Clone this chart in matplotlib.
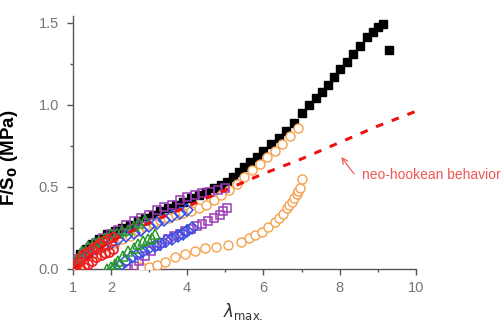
import matplotlib.pyplot as plt
from matplotlib.ticker import FixedLocator, FixedFormatter

# black squares (monotonic loading to failure)
black_x = [1.0, 1.1, 1.2, 1.35, 1.5, 1.7, 1.9, 2.1, 2.3, 2.5, 2.7, 2.9, 3.1, 3.3, 3.5, 3.7, 3.9,
           4.1, 4.3, 4.5, 4.7, 4.9, 5.05, 5.2, 5.35, 5.5, 5.65, 5.82, 6.0, 6.2, 6.4, 6.6, 6.8,
           7.0, 7.2, 7.38, 7.53, 7.7, 7.84, 8.01, 8.18, 8.36, 8.53, 8.71, 8.88, 9.01, 9.14, 9.30]
black_y = [0.0, 0.05, 0.09, 0.12, 0.15, 0.18, 0.21, 0.23, 0.25, 0.27, 0.29, 0.31, 0.33, 0.35, 0.37, 0.39, 0.41,
           0.43, 0.45, 0.47, 0.49, 0.51, 0.53, 0.56, 0.59, 0.62, 0.65, 0.68, 0.72, 0.76, 0.80, 0.84, 0.89,
           0.95, 1.00, 1.04, 1.08, 1.12, 1.17, 1.22, 1.26, 1.31, 1.36, 1.41, 1.44, 1.47, 1.49, 1.33]

# orange circles, upper and lower branches
orange_up_x = [1.0, 1.15, 1.3, 1.5, 1.7, 1.9, 2.1, 2.3, 2.5, 2.7, 2.9, 3.1, 3.3, 3.5, 3.7, 3.9,
               4.1, 4.3, 4.5, 4.7, 4.9, 5.1, 5.3, 5.5, 5.7, 5.9, 6.1, 6.3, 6.5, 6.7, 6.9]
orange_up_y = [0.0, 0.03, 0.06, 0.09, 0.12, 0.14, 0.16, 0.18, 0.20, 0.23, 0.26, 0.28, 0.30, 0.31, 0.33, 0.34,
               0.35, 0.37, 0.39, 0.42, 0.45, 0.48, 0.52, 0.56, 0.60, 0.64, 0.68, 0.72, 0.76, 0.81, 0.86]
orange_lo_x = [2.8, 3.0, 3.2, 3.42, 3.68, 3.94, 4.21, 4.47, 4.77, 5.08, 5.4, 5.62, 5.78, 5.95, 6.13,
               6.3, 6.42, 6.52, 6.61, 6.68, 6.74, 6.81, 6.87, 6.92, 6.96, 7.0]
orange_lo_y = [0.01, 0.015, 0.025, 0.045, 0.07, 0.09, 0.11, 0.125, 0.135, 0.145, 0.165, 0.19, 0.205, 0.225, 0.255,
               0.285, 0.31, 0.335, 0.37, 0.39, 0.41, 0.43, 0.455, 0.475, 0.495, 0.545]

# purple squares
purple_up_x = [1.0, 1.15, 1.3, 1.45, 1.6, 1.8, 2.0, 2.2, 2.4, 2.6, 2.8, 3.0, 3.2, 3.4, 3.6, 3.8,
               4.0, 4.2, 4.4, 4.6, 4.8, 5.0]
purple_up_y = [0.0, 0.06, 0.10, 0.13, 0.16, 0.19, 0.21, 0.24, 0.27, 0.29, 0.31, 0.33, 0.36, 0.38, 0.39, 0.42,
               0.44, 0.45, 0.46, 0.47, 0.48, 0.49]
purple_lo_x = [2.45, 2.6, 2.75, 2.9, 3.05, 3.2, 3.35, 3.5, 3.65, 3.8, 3.95, 4.1, 4.25, 4.4, 4.55,
               4.7, 4.85, 4.95, 5.04]
purple_lo_y = [0.0, 0.02, 0.05, 0.08, 0.11, 0.14, 0.16, 0.18, 0.20, 0.215, 0.23, 0.245, 0.26, 0.275, 0.29,
               0.31, 0.33, 0.35, 0.37]

# blue diamonds
blue_up_x = [1.0, 1.2, 1.4, 1.6, 1.8, 2.0, 2.2, 2.4, 2.6, 2.8, 3.0, 3.2, 3.4, 3.6, 3.8, 4.0]
blue_up_y = [0.0, 0.06, 0.09, 0.12, 0.14, 0.16, 0.18, 0.20, 0.22, 0.24, 0.26, 0.28, 0.30, 0.32, 0.34, 0.36]
blue_lo_x = [2.1, 2.25, 2.4, 2.55, 2.7, 2.85, 3.0, 3.15, 3.3, 3.45, 3.6, 3.75, 3.9, 4.0, 4.12]
blue_lo_y = [0.0, 0.02, 0.05, 0.075, 0.09, 0.11, 0.13, 0.14, 0.155, 0.17, 0.185, 0.20, 0.215, 0.23, 0.25]

# green triangles
green_up_x = [1.0, 1.1, 1.24, 1.4, 1.55, 1.7, 1.85, 2.0, 2.15, 2.3, 2.45, 2.6, 2.75, 2.9]
green_up_y = [0.0, 0.06, 0.11, 0.14, 0.16, 0.17, 0.19, 0.21, 0.22, 0.23, 0.24, 0.26, 0.28, 0.30]
green_lo_x = [1.9, 2.0, 2.1, 2.2, 2.32, 2.46, 2.6, 2.72, 2.85, 2.97, 3.07, 3.16]
green_lo_y = [0.0, 0.01, 0.03, 0.05, 0.08, 0.11, 0.13, 0.15, 0.17, 0.18, 0.19, 0.21]

# red circles
red_up_x = [1.0, 1.07, 1.14, 1.22, 1.3, 1.4, 1.5, 1.6, 1.7, 1.8, 1.93, 2.05]
red_up_y = [0.0, 0.02, 0.045, 0.07, 0.09, 0.105, 0.12, 0.14, 0.155, 0.17, 0.185, 0.195]
red_lo_x = [1.2, 1.3, 1.4, 1.5, 1.62, 1.75, 1.85, 1.95, 2.05]
red_lo_y = [0.0, 0.015, 0.03, 0.05, 0.07, 0.085, 0.095, 0.105, 0.12]

# neo-hookean reference line
neo_x = [1, 2, 3, 4, 5, 6, 7, 8, 9, 10]
neo_y = [0.0, 0.17, 0.28, 0.38, 0.48, 0.58, 0.67, 0.77, 0.87, 0.96]

x_ticks = [1, 2, 4, 6, 8, 10]
y_ticks = [0.0, 0.5, 1.0, 1.5]
y_labels = ['0.0', '0.5', '1.0', '1.5']

plt.rcParams['font.family'] = ['Liberation Sans', 'DejaVu Sans']

fig = plt.figure(figsize=(5.04, 3.29), dpi=100)
ax = fig.add_axes([0.1443, 0.1824, 0.681, 0.770])

ax.plot(black_x, black_y, 's', ms=6, color='black', zorder=2)

ms = 6.5
ax.plot(orange_up_x, orange_up_y, 'o', ms=ms, mfc='white', mec='#f5a04a', mew=1.0, zorder=3)
ax.plot(orange_lo_x, orange_lo_y, 'o', ms=ms, mfc='white', mec='#f5a04a', mew=1.0, zorder=3)
ax.plot(purple_up_x, purple_up_y, 's', ms=6, mfc='none', mec='#9a3cb8', mew=1.1, zorder=4)
ax.plot(purple_lo_x, purple_lo_y, 's', ms=6, mfc='none', mec='#9a3cb8', mew=1.1, zorder=4)
ax.plot(blue_up_x, blue_up_y, 'D', ms=6, mfc='none', mec='#3350e8', mew=1.1, zorder=5)
ax.plot(blue_lo_x, blue_lo_y, 'D', ms=6, mfc='none', mec='#3350e8', mew=1.1, zorder=5)
ax.plot(green_up_x, green_up_y, '^', ms=7.5, mfc='none', mec='#2b9a2b', mew=1.1, zorder=6)
ax.plot(green_lo_x, green_lo_y, '^', ms=7.5, mfc='none', mec='#2b9a2b', mew=1.1, zorder=6)
ax.plot(red_up_x, red_up_y, 'o', ms=6.5, mfc='none', mec='#ee2222', mew=1.3, zorder=7)
ax.plot(red_lo_x, red_lo_y, 'o', ms=6.5, mfc='none', mec='#ee2222', mew=1.3, zorder=7)

ax.plot(neo_x, neo_y, '--', color='#ee1111', lw=2.2, dashes=(2.5, 3.0), zorder=8)

ax.annotate('', xy=(8.0, 0.695), xytext=(8.42, 0.565),
            arrowprops=dict(arrowstyle='->', color='#f06060', lw=0.9))
ax.text(8.58, 0.575, 'neo-hookean behavior', color='#f05555', fontsize=10,
        va='center', ha='left', clip_on=False)

ax.set_xlim(1, 10)
ax.set_ylim(0, 1.542)
ax.xaxis.set_major_locator(FixedLocator(x_ticks))
ax.xaxis.set_minor_locator(FixedLocator([3, 5, 7, 9]))
ax.yaxis.set_major_locator(FixedLocator(y_ticks))
ax.yaxis.set_major_formatter(FixedFormatter(y_labels))
ax.yaxis.set_minor_locator(FixedLocator([0.25, 0.75, 1.25]))

for s in ['top', 'right']:
    ax.spines[s].set_visible(False)
for s in ['left', 'bottom']:
    ax.spines[s].set_color('#555555')
    ax.spines[s].set_linewidth(1.0)

ax.tick_params(which='major', direction='out', length=4, width=1, color='#555555',
               labelcolor='#777777', labelsize=10.5)
ax.tick_params(which='minor', direction='out', length=2.5, width=1, color='#555555')
ax.tick_params(axis='y', pad=6)
ax.tick_params(axis='x', pad=5)

ax.set_ylabel('F/S$_\\mathbf{0}$ (MPa)', fontsize=13.5, fontweight='bold')
ax.yaxis.set_label_coords(-0.153, 0.44)
fig.text(0.442, 0.035, '$\\lambda_{\\rm max.}$', fontsize=12, color='#333333',
         ha='left', va='baseline')

fig.savefig('out.png', dpi=100)
